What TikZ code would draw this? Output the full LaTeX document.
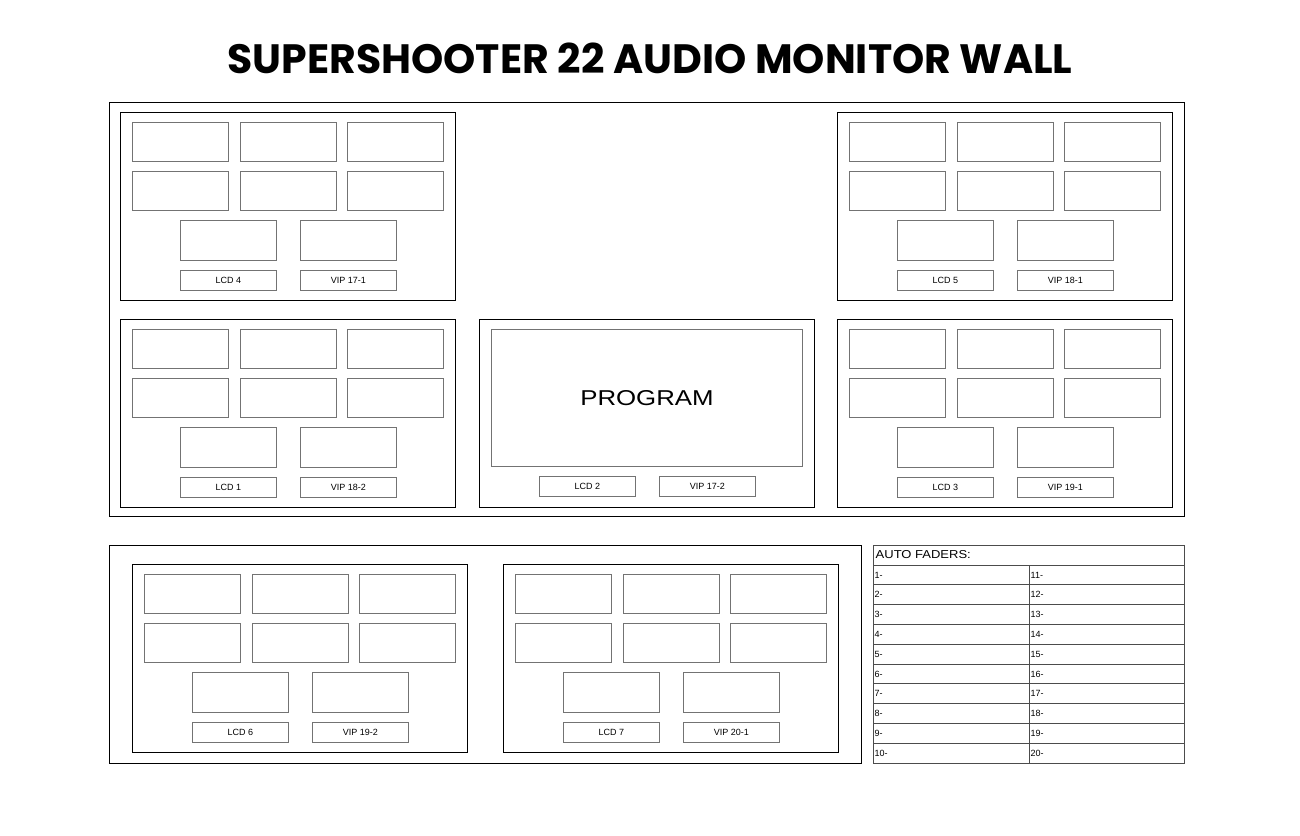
\documentclass[tikz,border=0pt]{standalone}
\usepackage{fontspec}
\setmainfont{Liberation Sans}
\newfontfamily\titlefont{Poppins}
\usetikzlibrary{positioning,calc}
\tikzset{
  wall/.style={draw=black,line width=1pt},
  modbox/.style={rectangle,draw=black,line width=1.3pt,anchor=north west,inner sep=0pt,
    minimum width=335pt,minimum height=188pt},
  scr/.style={rectangle,draw=black!55,line width=0.9pt,anchor=north west,inner sep=0pt,
    minimum width=96pt,minimum height=39pt},
  bigscr/.style={scr,minimum height=40pt},
  tag/.style={scr,minimum height=20pt,font=\fontsize{9}{10}\selectfont},
  tblline/.style={draw=black!70,line width=0.8pt},
  rowtxt/.style={anchor=west,inner sep=1.5pt,font=\fontsize{9}{10}\selectfont},
}
% one monitor block: name, x, y, left tag, right tag
\newcommand{\monmod}[5]{%
  \begin{scope}[shift={(#2,#3)}]
    \node[modbox] (#1) at (0,0) {};
    \foreach \r/\ry in {a/10,b/59}
      \foreach \c/\cx in {1/12,2/120,3/227}
        \node[scr] (#1-\r\c) at (\cx,\ry) {};
    \node[bigscr] (#1-big1) at (60,108) {};
    \node[bigscr] (#1-big2) at (180,108) {};
    \node[tag] (#1-tag1) at (60,158) {#4};
    \node[tag] (#1-tag2) at (180,158) {#5};
  \end{scope}}
\begin{document}
\begin{tikzpicture}[x=1pt,y=-1pt]
  \useasboundingbox (0,0) rectangle (1300,835);
  \node[font=\titlefont\bfseries\fontsize{41}{45}\selectfont] (title) at (650,58)
    {SUPERSHOOTER 22 AUDIO MONITOR WALL};

  % upper wall
  \draw[wall] (109,102) rectangle (1184,516);
  \monmod{lcdfour}{120}{112}{LCD 4}{VIP 17-1}
  \monmod{lcdfive}{837}{112}{LCD 5}{VIP 18-1}
  \monmod{lcdone}{120}{319}{LCD 1}{VIP 18-2}
  \monmod{lcdthree}{837}{319}{LCD 3}{VIP 19-1}
  % program block
  \begin{scope}[shift={(479,319)}]
    \node[modbox] (lcdtwo) at (0,0) {};
    \node[scr,minimum width=311pt,minimum height=137pt,
      font=\fontsize{21.5}{24}\selectfont] (pgm) at (12,10) {\scalebox{1.2}[1]{PROGRAM}};
    \node[tag] (lcdtwo-tag1) at (60,157) {LCD 2};
    \node[tag] (lcdtwo-tag2) at (180,157) {VIP 17-2};
  \end{scope}

  % lower wall
  \draw[wall] (109,545) rectangle (861,763);
  \monmod{lcdsix}{132}{564}{LCD 6}{VIP 19-2}
  \monmod{lcdseven}{503}{564}{LCD 7}{VIP 20-1}

  % auto faders table
  \draw[tblline] (873,545) rectangle (1184,763);
  \node[rowtxt,font=\fontsize{11.5}{13}\selectfont] (fhead) at (874,555)
    {\scalebox{1.13}[1]{AUTO FADERS:}};
  \foreach \k in {0,...,9}
    \draw[tblline] (873,565+19.8*\k) -- (1184,565+19.8*\k);
  \draw[tblline] (1029,565) -- (1029,763);
  \foreach \k in {1,...,10}{
    \pgfmathtruncatemacro\kk{\k+10}
    \node[rowtxt] (fa\k) at (873,565+19.8*\k-9.9) {\k-};
    \node[rowtxt] (fb\k) at (1029,565+19.8*\k-9.9) {\kk-};
  }
\end{tikzpicture}
\end{document}
